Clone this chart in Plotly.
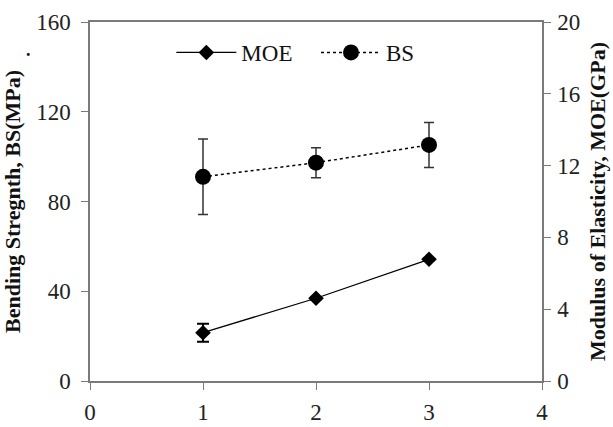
import plotly.graph_objects as go

x_vals = [1, 2, 3]
moe = [2.69, 4.61, 6.78]
moe_err = [0.5, 0.05, 0.05]
bs = [91.0, 97.3, 105.2]
bs_err = [16.8, 6.7, 10.0]

font_family = "Liberation Serif, Times New Roman, serif"
axis_col = "#7a7a7a"

fig = go.Figure()
fig.add_trace(go.Scatter(
    x=x_vals, y=moe, name="MOE", yaxis="y2", mode="lines+markers",
    line=dict(color="black", width=1.3),
    marker=dict(symbol="diamond", size=12, color="black"),
    error_y=dict(type="data", array=moe_err, color="black", thickness=2, width=6, visible=True),
    legend="legend",
))
fig.add_trace(go.Scatter(
    x=x_vals, y=bs, name="BS", mode="lines+markers",
    line=dict(color="black", width=1.5, dash="dot"),
    marker=dict(symbol="circle", size=16, color="black"),
    error_y=dict(type="data", array=bs_err, color="#333333", thickness=1.5, width=5, visible=True),
    legend="legend2",
))

tickfont = dict(family=font_family, size=23, color="#222222")
titlefont = dict(family=font_family, size=22, color="#111111")
legfont = dict(family=font_family, size=23, color="#111111")

fig.update_layout(
    width=613, height=427,
    margin=dict(l=90, r=71, t=22, b=46, autoexpand=False),
    paper_bgcolor="white", plot_bgcolor="white",
    showlegend=True,
    legend=dict(orientation="h", x=0.18, y=0.975, xanchor="left", yanchor="top",
                font=legfont, itemwidth=60, bgcolor="rgba(0,0,0,0)"),
    legend2=dict(orientation="h", x=0.50, y=0.975, xanchor="left", yanchor="top",
                 font=legfont, itemwidth=60, bgcolor="rgba(0,0,0,0)"),
    xaxis=dict(range=[0, 4], tickvals=[0, 1, 2, 3, 4], showgrid=False, zeroline=False,
               showline=True, linecolor=axis_col, linewidth=1.5, mirror=True,
               ticks="outside", ticklen=7, tickcolor=axis_col, tickfont=tickfont,
               ticklabelstandoff=3, automargin=False),
    yaxis=dict(range=[0, 160], tickvals=[0, 40, 80, 120, 160], showgrid=False, zeroline=False,
               showline=True, linecolor=axis_col, linewidth=1.5,
               ticks="outside", ticklen=7, tickcolor=axis_col, tickfont=tickfont,
               ticklabelstandoff=6, automargin=False,
               title=dict(text="<b>Bending Stregnth, BS(MPa)</b>", font=titlefont, standoff=10)),
    yaxis2=dict(range=[0, 20], tickvals=[0, 4, 8, 12, 16, 20], overlaying="y", side="right",
                showgrid=False, zeroline=False, showline=True, linecolor=axis_col, linewidth=1.5,
                ticks="outside", ticklen=7, tickcolor=axis_col, tickfont=tickfont,
                ticklabelstandoff=2, automargin=False,
                title=dict(text="<b>Modulus of Elasticity, MOE(GPa)</b>", font=titlefont, standoff=10)),
)
fig.add_annotation(text="<b>.</b>", xref="paper", yref="paper", x=-0.145, y=0.955,
                   showarrow=False, font=dict(family=font_family, size=18, color="#111111"))

fig.write_html("out.html")
